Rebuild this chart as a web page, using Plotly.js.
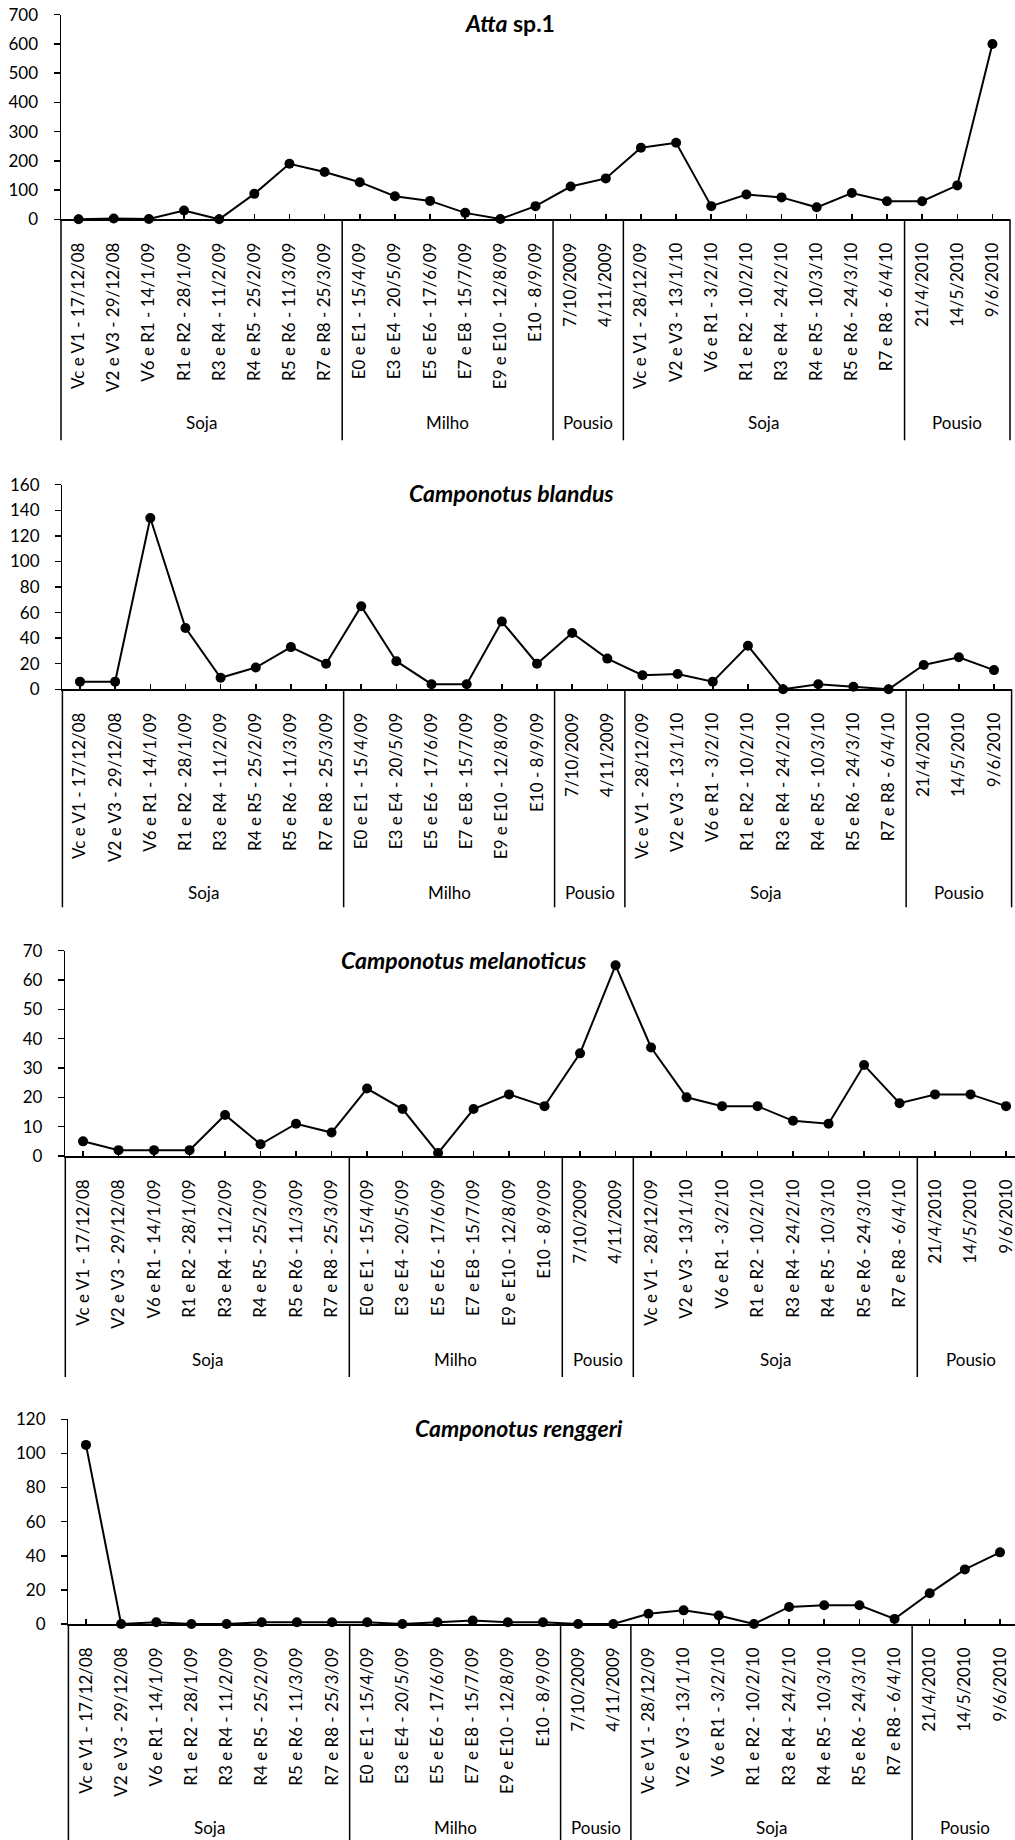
<!DOCTYPE html>
<html><head><meta charset="utf-8">
<script src="https://cdn.plot.ly/plotly-3.0.1.min.js"></script>
<style>html,body{margin:0;padding:0;background:#fff}</style>
</head><body><div id="chart" style="width:1015px;height:1840px"></div>
<script>
const categories = [
  'Vc e V1 - 17/12/08','V2 e V3 - 29/12/08','V6 e R1 - 14/1/09','R1 e R2 - 28/1/09',
  'R3 e R4 - 11/2/09','R4 e R5 - 25/2/09','R5 e R6 - 11/3/09','R7 e R8 - 25/3/09',
  'E0 e E1 - 15/4/09','E3 e E4 - 20/5/09','E5 e E6 - 17/6/09','E7 e E8 - 15/7/09',
  'E9 e E10 - 12/8/09','E10 - 8/9/09',
  '7/10/2009','4/11/2009',
  'Vc e V1 - 28/12/09','V2 e V3 - 13/1/10','V6 e R1 - 3/2/10','R1 e R2 - 10/2/10',
  'R3 e R4 - 24/2/10','R4 e R5 - 10/3/10','R5 e R6 - 24/3/10','R7 e R8 - 6/4/10',
  '21/4/2010','14/5/2010','9/6/2010'
];
const groupNames = ['Soja','Milho','Pousio','Soja','Pousio'];
const groupSizes = [8, 6, 2, 8, 3];

const atta        = [0, 3, 1, 30, 0, 87, 190, 162, 127, 79, 63, 22, 1, 45, 112, 140, 245, 262, 45, 85, 75, 41, 90, 62, 62, 116, 600];
const blandus     = [6, 6, 134, 48, 9, 17, 33, 20, 65, 22, 4, 4, 53, 20, 44, 24, 11, 12, 6, 34, 0, 4, 2, 0, 19, 25, 15];
const melanoticus = [5, 2, 2, 2, 14, 4, 11, 8, 23, 16, 1, 16, 21, 17, 35, 65, 37, 20, 17, 17, 12, 11, 31, 18, 21, 21, 17];
const renggeri    = [105, 0, 1, 0, 0, 1, 1, 1, 1, 0, 1, 2, 1, 1, 0, 0, 6, 8, 5, 0, 10, 11, 11, 3, 18, 32, 42];

const panelTitles = ['<i>Atta</i> sp.1', '<i>Camponotus blandus</i>', '<i>Camponotus melanoticus</i>', '<i>Camponotus renggeri</i>'];
const yMax  = [700, 160, 70, 120];
const yStep = [100, 20, 10, 20];
const series = [atta, blandus, melanoticus, renggeri];

// layout geometry (pixels)
const W = 1015, H = 1840;
const geom = [
  {left: 61.0, right: 1010.0, top: 14.7,   bottom: 219.3,  depth: 221, tx: 510, ty: 23,   rightLine: true},
  {left: 62.4, right: 1011.6, top: 484.7,  bottom: 689.3,  depth: 218, tx: 512, ty: 493,  rightLine: true},
  {left: 65.3, right: 1023.8, top: 950.7,  bottom: 1156.0, depth: 221, tx: 464, ty: 960,  rightLine: false},
  {left: 68.4, right: 1017.6, top: 1419.3, bottom: 1624.0, depth: 220, tx: 519, ty: 1428, rightLine: false}
];
const groupLabelOffset = 203;
const FONT = 'Lato, "Open Sans", sans-serif';
const TICK_SIZE = 17;

const data = [];
const layout = {
  width: W, height: H,
  margin: {l: 0, r: 0, t: 0, b: 0},
  paper_bgcolor: '#fff', plot_bgcolor: '#fff',
  showlegend: false,
  font: {family: FONT, size: TICK_SIZE, color: '#000'},
  shapes: [], annotations: []
};

const nCat = categories.length;
geom.forEach((g, p) => {
  const sfx = p === 0 ? '' : String(p + 1);
  const xa = 'x' + sfx, ya = 'y' + sfx;
  const pxPerCat = (g.right - g.left) / nCat;
  const rightPx = Math.min(g.right, W);
  const rMax = -0.5 + (rightPx - g.left) / pxPerCat;
  const plotH = g.bottom - g.top;

  data.push({
    type: 'scatter', mode: 'lines+markers',
    x: categories, y: series[p],
    xaxis: xa, yaxis: ya,
    line: {color: '#000', width: 2},
    marker: {color: '#000', size: 10},
    cliponaxis: false, hoverinfo: 'skip'
  });

  layout['xaxis' + sfx] = {
    type: 'category', anchor: ya,
    domain: [g.left / W, rightPx / W],
    range: [-0.5, rMax],
    tickangle: -90,
    ticks: 'inside', ticklen: 5, tickwidth: 1.5, tickcolor: '#000',
    showline: true, linecolor: '#000', linewidth: 1.5,
    showgrid: false, zeroline: false,
    tickfont: {family: FONT, size: TICK_SIZE, color: '#000'},
    ticklabelstandoff: 15,
    automargin: false, fixedrange: true
  };
  layout['yaxis' + sfx] = {
    anchor: xa,
    domain: [1 - g.bottom / H, 1 - g.top / H],
    range: [0, yMax[p]], tick0: 0, dtick: yStep[p],
    ticks: 'outside', ticklen: 6, tickwidth: 1.5, tickcolor: '#000',
    showline: true, linecolor: '#000', linewidth: 1.5,
    showgrid: false, zeroline: false,
    tickfont: {family: FONT, size: TICK_SIZE, color: '#000'},
    ticklabelstandoff: 12,
    automargin: false, fixedrange: true
  };

  const yLow = -g.depth / plotH;
  // left extension of the value axis below the category axis
  layout.shapes.push({type: 'line', xref: xa + ' domain', yref: ya + ' domain',
    x0: 0, x1: 0, y0: 0, y1: yLow, line: {color: '#000', width: 1.5}});
  if (g.rightLine) {
    layout.shapes.push({type: 'line', xref: xa + ' domain', yref: ya + ' domain',
      x0: 1, x1: 1, y0: 0, y1: yLow, line: {color: '#000', width: 1.5}});
  }
  // group dividers and labels
  let start = 0;
  groupNames.forEach((name, gi) => {
    const end = start + groupSizes[gi];
    if (gi < groupNames.length - 1) {
      layout.shapes.push({type: 'line', xref: xa, yref: ya + ' domain',
        x0: end - 0.5, x1: end - 0.5, y0: 0, y1: yLow, line: {color: '#000', width: 1.5}});
    }
    layout.annotations.push({xref: xa, yref: ya + ' domain',
      x: (start + end - 1) / 2, y: -groupLabelOffset / plotH,
      xanchor: 'center', yanchor: 'middle', showarrow: false,
      text: name, font: {family: FONT, size: TICK_SIZE, color: '#000'}});
    start = end;
  });
  // panel title
  layout.annotations.push({xref: 'paper', yref: 'paper',
    x: g.tx / W, y: 1 - g.ty / H, xanchor: 'center', yanchor: 'middle',
    showarrow: false, text: '<b>' + panelTitles[p] + '</b>',
    font: {family: FONT, size: 23, color: '#000'}});
});

Plotly.newPlot('chart', data, layout, {staticPlot: true, displayModeBar: false});
</script>
</body></html>
